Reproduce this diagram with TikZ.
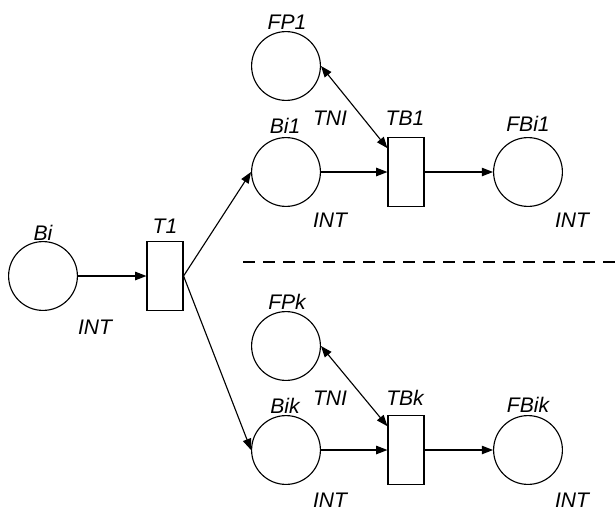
\documentclass[tikz,border=0pt]{standalone}
\usepackage{fontspec}
\setmainfont{Liberation Sans}
\usetikzlibrary{arrows.meta,positioning}
\tikzset{
	place/.style={draw, circle, line width=0.8pt, minimum size=1.72cm, inner sep=0},
	trans/.style={draw, rectangle, line width=0.8pt, minimum width=0.9cm, minimum height=1.72cm, inner sep=0},
	lab/.style={inner sep=0, font=\fontsize{15}{18}\selectfont\itshape},
	arc/.style={-{Triangle[length=8pt,width=6pt]}, line width=0.8pt},
	arcboth/.style={{Triangle[length=8pt,width=6pt]}-{Triangle[length=8pt,width=6pt]}, line width=0.8pt},
}

\begin{document}
\begin{tikzpicture}[x=0.025cm, y=-0.025cm]
	\useasboundingbox (0,0) rectangle (615,513);

	% input place and first transition
	\node [place] (Bi) at (43, 276) {};
	\node [trans] (T1) at (165, 276) {};
	\node [lab] (lBi) at (43, 233) {Bi};
	\node [lab] (lT1) at (165, 226) {T1};
	\node [lab] (iBi) at (95, 327) {INT};

	% upper branch
	\node [place] (FP1) at (286, 66) {};
	\node [place] (Bi1) at (286, 172) {};
	\node [trans] (TB1) at (406, 172) {};
	\node [place] (FBi1) at (528, 172) {};
	\node [lab] (lFP1) at (287, 22) {FP1};
	\node [lab] (lBi1) at (285, 126) {Bi1};
	\node [lab] (tTB1) at (330, 118) {TNI};
	\node [lab] (lTB1) at (405, 118) {TB1};
	\node [lab] (iBi1) at (330, 220) {INT};
	\node [lab] (lFBi1) at (528, 124) {FBi1};
	\node [lab] (iFBi1) at (572, 220) {INT};

	% separator
	\coordinate (sepA) at (243, 262);
	\coordinate (sepB) at (615, 262);
	\draw [dash pattern=on 0.3cm off 0.2cm, line width=0.8pt] (sepA) -- (sepB);

	% lower branch
	\node [place] (FPk) at (286, 346) {};
	\node [place] (Bik) at (286, 450) {};
	\node [trans] (TBk) at (406, 450) {};
	\node [place] (FBik) at (528, 450) {};
	\node [lab] (lFPk) at (287, 302) {FPk};
	\node [lab] (lBik) at (285, 406) {Bik};
	\node [lab] (tTBk) at (330, 398) {TNI};
	\node [lab] (lTBk) at (405, 398) {TBk};
	\node [lab] (iBik) at (330, 500) {INT};
	\node [lab] (lFBik) at (528, 405) {FBik};
	\node [lab] (iFBik) at (572, 500) {INT};

	% arcs
	\draw [arc] (Bi) -- (T1);
	\draw [arc] (T1.east) -- (Bi1.west);
	\draw [arc] (T1.east) -- (Bik.west);
	\draw [arc] (Bi1) -- (TB1);
	\draw [arc] (TB1) -- (FBi1);
	\draw [arc] (Bik) -- (TBk);
	\draw [arc] (TBk) -- (FBik);
	\draw [arcboth] (FP1.east) -- ([yshift=-0.28cm]TB1.north west);
	\draw [arcboth] (FPk.east) -- ([yshift=-0.28cm]TBk.north west);
\end{tikzpicture}
\end{document}
